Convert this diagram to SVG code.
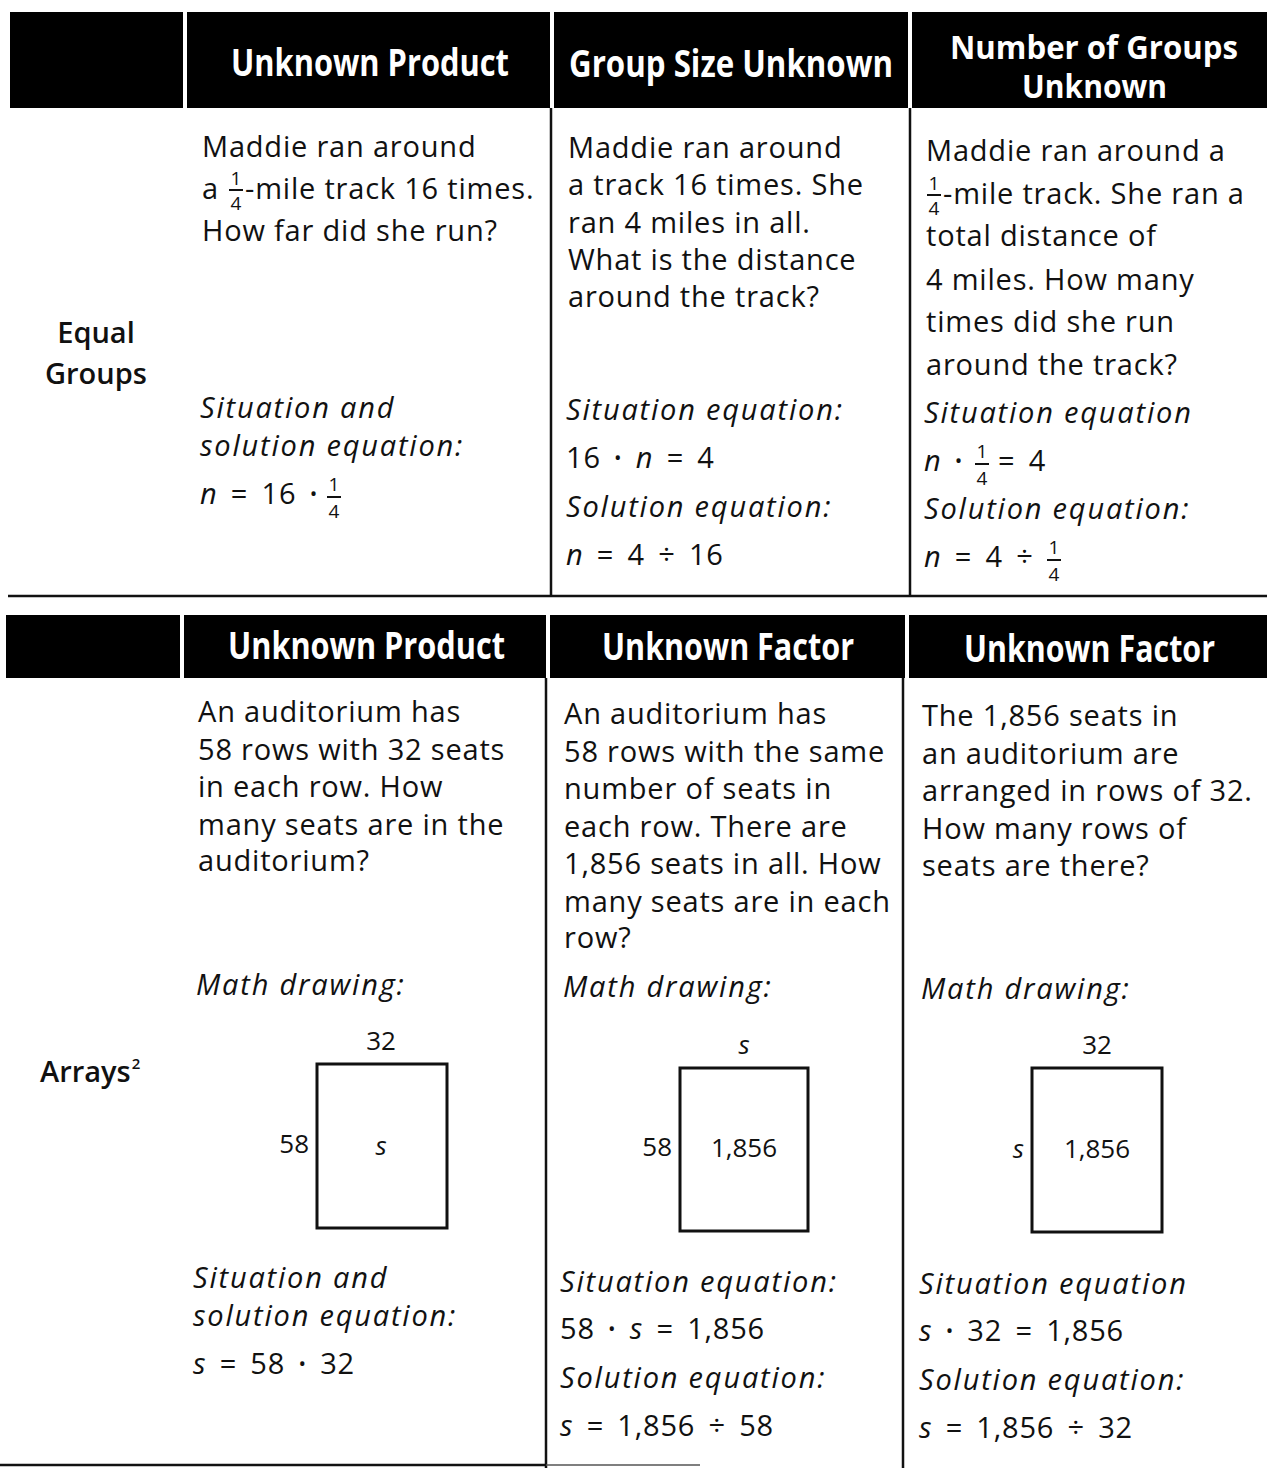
<svg xmlns="http://www.w3.org/2000/svg" width="1267" height="1468" viewBox="0 0 1267 1468">
<style>
text{font-family:"Open Sans","Noto Sans","Liberation Sans",sans-serif;fill:#111}
.b{font-size:29px;letter-spacing:0.8px}
.m{font-size:29px;letter-spacing:0.8px;word-spacing:5px}
.i{font-size:29px;font-style:italic;letter-spacing:1.8px}
.v{font-style:italic}
.d{font-size:20px}
.h{font-size:37px;font-weight:700;fill:#fff}
.h2{font-size:32px;font-weight:700;fill:#fff}
.lbl{font-size:29px;font-weight:600}
.fr{font-size:19px;text-anchor:middle}
.fig{font-size:26px}
.bar{stroke:#111;stroke-width:2}
.rule{stroke:#111;stroke-width:2.5}
.hd{fill:#000}
.box{fill:none;stroke:#111;stroke-width:3}
</style>

<g id="top-header">
<rect class="hd" x="10" y="12" width="173" height="96"/>
<rect class="hd" x="187" y="12" width="363" height="96"/>
<rect class="hd" x="554" y="12" width="354" height="96"/>
<rect class="hd" x="912" y="12" width="355" height="96"/>
<text class="h" x="231" y="76" textLength="278" lengthAdjust="spacingAndGlyphs">Unknown Product</text>
<text class="h" x="569" y="77" textLength="324" lengthAdjust="spacingAndGlyphs">Group Size Unknown</text>
<text class="h2" x="950" y="59" textLength="288" lengthAdjust="spacingAndGlyphs">Number of Groups</text>
<text class="h2" x="1022" y="98" textLength="145" lengthAdjust="spacingAndGlyphs">Unknown</text>
</g>

<g id="rules">
<line class="rule" x1="551" y1="108" x2="551" y2="597"/>
<line class="rule" x1="910" y1="108" x2="910" y2="597"/>
<line class="rule" x1="8" y1="596" x2="1267" y2="596"/>
<line class="rule" x1="546" y1="678" x2="546" y2="1468"/>
<line class="rule" x1="903" y1="678" x2="903" y2="1468"/>
<line class="rule" x1="0" y1="1465" x2="546" y2="1465"/>
<line stroke="#555" stroke-width="1.5" x1="546" y1="1465" x2="700" y2="1465"/>
</g>

<g id="label-equal-groups">
<text class="lbl" x="96" y="343" text-anchor="middle">Equal</text>
<text class="lbl" x="96" y="384" text-anchor="middle">Groups</text>
</g>

<g id="eg-unknown-product">
<text class="b" x="202" y="157">Maddie ran around</text>
<text class="b" x="202" y="199">a</text>
<text class="fr" x="236" y="185">1</text>
<line class="bar" x1="229" y1="190" x2="243" y2="190"/>
<text class="fr" x="236" y="210">4</text>
<text class="b" x="245" y="199">-mile track 16 times.</text>
<text class="b" x="202" y="241">How far did she run?</text>
<text class="i" x="200" y="418">Situation and</text>
<text class="i" x="200" y="456">solution equation:</text>
<text class="m" x="200" y="504"><tspan class="v">n</tspan> = 16 <tspan class="d" dy="-3">•</tspan></text>
<text class="fr" x="334" y="491">1</text>
<line class="bar" x1="327" y1="497" x2="341" y2="497"/>
<text class="fr" x="334" y="518">4</text>
</g>

<g id="eg-group-size-unknown">
<text class="b" x="568" y="158">Maddie ran around</text>
<text class="b" x="568" y="195">a track 16 times. She</text>
<text class="b" x="568" y="233">ran 4 miles in all.</text>
<text class="b" x="568" y="270">What is the distance</text>
<text class="b" x="568" y="307">around the track?</text>
<text class="i" x="566" y="420">Situation equation:</text>
<text class="m" x="566" y="468">16 <tspan class="d" dy="-3">•</tspan> <tspan class="v" dy="3">n</tspan> = 4</text>
<text class="i" x="566" y="517">Solution equation:</text>
<text class="m" x="566" y="565"><tspan class="v">n</tspan> = 4 ÷ 16</text>
</g>

<g id="eg-number-of-groups-unknown">
<text class="b" x="926" y="161">Maddie ran around a</text>
<text class="fr" x="934" y="190">1</text>
<line class="bar" x1="927" y1="195" x2="941" y2="195"/>
<text class="fr" x="934" y="215">4</text>
<text class="b" x="943" y="204">-mile track. She ran a</text>
<text class="b" x="926" y="246">total distance of</text>
<text class="b" x="926" y="290">4 miles. How many</text>
<text class="b" x="926" y="332">times did she run</text>
<text class="b" x="926" y="375">around the track?</text>
<text class="i" x="924" y="423">Situation equation</text>
<text class="m" x="924" y="471"><tspan class="v">n</tspan> <tspan class="d" dy="-3">•</tspan></text>
<text class="fr" x="982" y="458">1</text>
<line class="bar" x1="975" y1="464" x2="989" y2="464"/>
<text class="fr" x="982" y="485">4</text>
<text class="m" x="998" y="471">= 4</text>
<text class="i" x="924" y="519">Solution equation:</text>
<text class="m" x="924" y="567"><tspan class="v">n</tspan> = 4 ÷</text>
<text class="fr" x="1054" y="554">1</text>
<line class="bar" x1="1047" y1="560" x2="1061" y2="560"/>
<text class="fr" x="1054" y="581">4</text>
</g>

<g id="bottom-header">
<rect class="hd" x="6" y="615" width="174" height="63"/>
<rect class="hd" x="184" y="615" width="362" height="63"/>
<rect class="hd" x="550" y="615" width="355" height="63"/>
<rect class="hd" x="909" y="615" width="358" height="63"/>
<text class="h" x="228" y="659" textLength="277" lengthAdjust="spacingAndGlyphs">Unknown Product</text>
<text class="h" x="602" y="660" textLength="252" lengthAdjust="spacingAndGlyphs">Unknown Factor</text>
<text class="h" x="964" y="662" textLength="251" lengthAdjust="spacingAndGlyphs">Unknown Factor</text>
</g>

<g id="label-arrays">
<text class="lbl" x="40" y="1082">Arrays<tspan font-size="15" dy="-13" dx="1">2</tspan></text>
</g>

<g id="ar-unknown-product">
<text class="b" x="198" y="722">An auditorium has</text>
<text class="b" x="198" y="760">58 rows with 32 seats</text>
<text class="b" x="198" y="797">in each row. How</text>
<text class="b" x="198" y="835">many seats are in the</text>
<text class="b" x="198" y="871">auditorium?</text>
<text class="i" x="196" y="995">Math drawing:</text>
<text class="fig" x="381" y="1050" text-anchor="middle">32</text>
<rect class="box" x="317" y="1064" width="130" height="164"/>
<text class="fig" x="309" y="1153" text-anchor="end">58</text>
<text class="fig v" x="381" y="1155" text-anchor="middle">s</text>
<text class="i" x="193" y="1288">Situation and</text>
<text class="i" x="193" y="1326">solution equation:</text>
<text class="m" x="193" y="1374"><tspan class="v">s</tspan> = 58 <tspan class="d" dy="-3">•</tspan> <tspan dy="3">32</tspan></text>
</g>

<g id="ar-unknown-factor-1">
<text class="b" x="564" y="724">An auditorium has</text>
<text class="b" x="564" y="762">58 rows with the same</text>
<text class="b" x="564" y="799">number of seats in</text>
<text class="b" x="564" y="837">each row. There are</text>
<text class="b" x="564" y="874">1,856 seats in all. How</text>
<text class="b" x="564" y="912">many seats are in each</text>
<text class="b" x="564" y="948">row?</text>
<text class="i" x="563" y="997">Math drawing:</text>
<text class="fig v" x="744" y="1054" text-anchor="middle">s</text>
<rect class="box" x="680" y="1068" width="128" height="163"/>
<text class="fig" x="672" y="1156" text-anchor="end">58</text>
<text class="fig" x="744" y="1157" text-anchor="middle">1,856</text>
<text class="i" x="560" y="1292">Situation equation:</text>
<text class="m" x="560" y="1339">58 <tspan class="d" dy="-3">•</tspan> <tspan class="v" dy="3">s</tspan> = 1,856</text>
<text class="i" x="560" y="1388">Solution equation:</text>
<text class="m" x="560" y="1436"><tspan class="v">s</tspan> = 1,856 ÷ 58</text>
</g>

<g id="ar-unknown-factor-2">
<text class="b" x="922" y="726">The 1,856 seats in</text>
<text class="b" x="922" y="764">an auditorium are</text>
<text class="b" x="922" y="801">arranged in rows of 32.</text>
<text class="b" x="922" y="839">How many rows of</text>
<text class="b" x="922" y="876">seats are there?</text>
<text class="i" x="921" y="999">Math drawing:</text>
<text class="fig" x="1097" y="1054" text-anchor="middle">32</text>
<rect class="box" x="1032" y="1068" width="130" height="164"/>
<text class="fig v" x="1024" y="1158" text-anchor="end">s</text>
<text class="fig" x="1097" y="1158" text-anchor="middle">1,856</text>
<text class="i" x="919" y="1294">Situation equation</text>
<text class="m" x="919" y="1341"><tspan class="v">s</tspan> <tspan class="d" dy="-3">•</tspan> <tspan dy="3">32</tspan> = 1,856</text>
<text class="i" x="919" y="1390">Solution equation:</text>
<text class="m" x="919" y="1438"><tspan class="v">s</tspan> = 1,856 ÷ 32</text>
</g>
</svg>
